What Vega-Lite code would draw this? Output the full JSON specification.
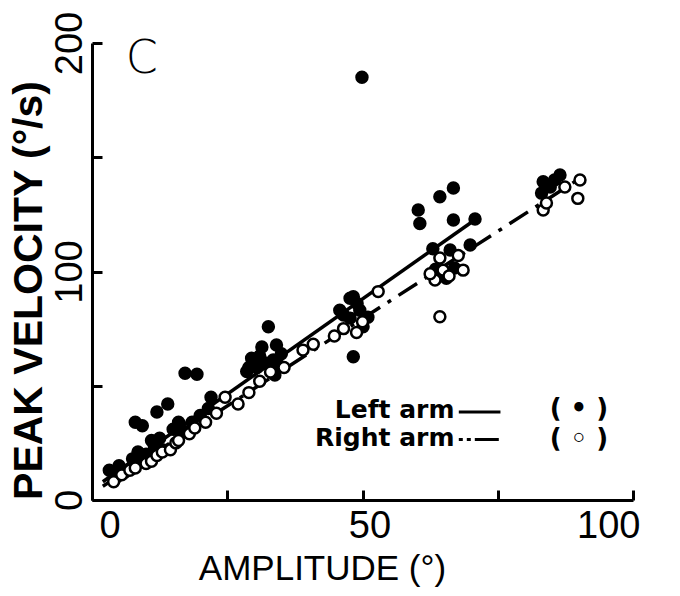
{
  "$schema": "https://vega.github.io/schema/vega-lite/v6.json",
  "autosize": "none",
  "width": 541,
  "height": 457,
  "padding": {"left": 92, "top": 43, "right": 47, "bottom": 96},
  "background": "white",
  "config": {
    "view": {"stroke": null},
    "font": "Liberation Sans",
    "axis": {
      "grid": false,
      "domainColor": "black",
      "domainWidth": 3,
      "tickColor": "black",
      "tickWidth": 3,
      "tickSize": -10,
      "labelColor": "black",
      "labelFont": "Liberation Sans",
      "labelFontSize": 38,
      "titleColor": "black",
      "titleFont": "Liberation Sans",
      "titleFontWeight": "normal"
    }
  },
  "datasets": {
    "pts": [
      {"arm": "Left", "amp": 3.2, "vel": 13},
      {"arm": "Left", "amp": 4.5, "vel": 10},
      {"arm": "Left", "amp": 6, "vel": 12},
      {"arm": "Left", "amp": 5, "vel": 15},
      {"arm": "Left", "amp": 7.5, "vel": 18},
      {"arm": "Left", "amp": 8.5, "vel": 21},
      {"arm": "Left", "amp": 11, "vel": 26},
      {"arm": "Left", "amp": 12.5, "vel": 27},
      {"arm": "Left", "amp": 15, "vel": 31},
      {"arm": "Left", "amp": 16, "vel": 34},
      {"arm": "Left", "amp": 8, "vel": 34},
      {"arm": "Left", "amp": 9.3, "vel": 32.5},
      {"arm": "Left", "amp": 12, "vel": 38.5},
      {"arm": "Left", "amp": 14, "vel": 42},
      {"arm": "Left", "amp": 17.2, "vel": 55.5},
      {"arm": "Left", "amp": 19.4, "vel": 55},
      {"arm": "Left", "amp": 10, "vel": 20},
      {"arm": "Left", "amp": 11.5, "vel": 24},
      {"arm": "Left", "amp": 9.5, "vel": 17},
      {"arm": "Left", "amp": 13, "vel": 22},
      {"arm": "Left", "amp": 17, "vel": 30},
      {"arm": "Left", "amp": 18.5, "vel": 34},
      {"arm": "Left", "amp": 21.5, "vel": 40},
      {"arm": "Left", "amp": 22, "vel": 45},
      {"arm": "Left", "amp": 20, "vel": 37},
      {"arm": "Left", "amp": 31.4, "vel": 67},
      {"arm": "Left", "amp": 32.6, "vel": 75.8},
      {"arm": "Left", "amp": 29.5, "vel": 62},
      {"arm": "Left", "amp": 34.1, "vel": 67.8},
      {"arm": "Left", "amp": 33.5, "vel": 61.3},
      {"arm": "Left", "amp": 28.6, "vel": 56.2},
      {"arm": "Left", "amp": 33.8, "vel": 54.7},
      {"arm": "Left", "amp": 30.5, "vel": 58},
      {"arm": "Left", "amp": 35, "vel": 64},
      {"arm": "Left", "amp": 29, "vel": 58},
      {"arm": "Left", "amp": 31, "vel": 63},
      {"arm": "Left", "amp": 32, "vel": 60},
      {"arm": "Left", "amp": 34.5, "vel": 59},
      {"arm": "Left", "amp": 48.3, "vel": 89},
      {"arm": "Left", "amp": 45.8, "vel": 83},
      {"arm": "Left", "amp": 47.7, "vel": 88.3},
      {"arm": "Left", "amp": 49.5, "vel": 83},
      {"arm": "Left", "amp": 47.7, "vel": 79.6},
      {"arm": "Left", "amp": 50.1, "vel": 75.8},
      {"arm": "Left", "amp": 46.5, "vel": 81},
      {"arm": "Left", "amp": 49, "vel": 86},
      {"arm": "Left", "amp": 51, "vel": 80},
      {"arm": "Left", "amp": 48.3, "vel": 62.7},
      {"arm": "Left", "amp": 66.8, "vel": 136.5},
      {"arm": "Left", "amp": 64.3, "vel": 132.7},
      {"arm": "Left", "amp": 60.3, "vel": 126.9},
      {"arm": "Left", "amp": 60.6, "vel": 121},
      {"arm": "Left", "amp": 66.8, "vel": 122.5},
      {"arm": "Left", "amp": 70.8, "vel": 123},
      {"arm": "Left", "amp": 63, "vel": 110},
      {"arm": "Left", "amp": 66.2, "vel": 109.4},
      {"arm": "Left", "amp": 69.9, "vel": 111.6},
      {"arm": "Left", "amp": 63.5, "vel": 101},
      {"arm": "Left", "amp": 67, "vel": 101.5},
      {"arm": "Left", "amp": 65.5, "vel": 97},
      {"arm": "Left", "amp": 83.4, "vel": 139.3},
      {"arm": "Left", "amp": 86.5, "vel": 142.2},
      {"arm": "Left", "amp": 84.7, "vel": 137},
      {"arm": "Left", "amp": 83.1, "vel": 134.3},
      {"arm": "Left", "amp": 85.5, "vel": 140},
      {"arm": "Left", "amp": 49.9, "vel": 185},
      {"arm": "Right", "amp": 4, "vel": 8},
      {"arm": "Right", "amp": 5.5, "vel": 11},
      {"arm": "Right", "amp": 7, "vel": 13},
      {"arm": "Right", "amp": 8, "vel": 14},
      {"arm": "Right", "amp": 10, "vel": 16},
      {"arm": "Right", "amp": 11, "vel": 17},
      {"arm": "Right", "amp": 12, "vel": 19.5},
      {"arm": "Right", "amp": 13, "vel": 21},
      {"arm": "Right", "amp": 14.5, "vel": 22},
      {"arm": "Right", "amp": 15.5, "vel": 25},
      {"arm": "Right", "amp": 16, "vel": 26},
      {"arm": "Right", "amp": 18, "vel": 29},
      {"arm": "Right", "amp": 19, "vel": 31.5},
      {"arm": "Right", "amp": 21, "vel": 34},
      {"arm": "Right", "amp": 23, "vel": 38},
      {"arm": "Right", "amp": 24.6, "vel": 45},
      {"arm": "Right", "amp": 27, "vel": 42},
      {"arm": "Right", "amp": 29, "vel": 47},
      {"arm": "Right", "amp": 31, "vel": 52},
      {"arm": "Right", "amp": 33, "vel": 56},
      {"arm": "Right", "amp": 35.5, "vel": 58},
      {"arm": "Right", "amp": 39, "vel": 65.6},
      {"arm": "Right", "amp": 40.9, "vel": 68.2},
      {"arm": "Right", "amp": 44.8, "vel": 71.8},
      {"arm": "Right", "amp": 48.9, "vel": 73.3},
      {"arm": "Right", "amp": 46.5, "vel": 75},
      {"arm": "Right", "amp": 50, "vel": 78},
      {"arm": "Right", "amp": 52.9, "vel": 91.2},
      {"arm": "Right", "amp": 64.3, "vel": 105.9},
      {"arm": "Right", "amp": 64.9, "vel": 100.6},
      {"arm": "Right", "amp": 68.6, "vel": 100.6},
      {"arm": "Right", "amp": 63.4, "vel": 96.3},
      {"arm": "Right", "amp": 64.3, "vel": 80.2},
      {"arm": "Right", "amp": 67.7, "vel": 107},
      {"arm": "Right", "amp": 66, "vel": 98},
      {"arm": "Right", "amp": 62.5, "vel": 99},
      {"arm": "Right", "amp": 83.4, "vel": 126.9},
      {"arm": "Right", "amp": 90.2, "vel": 140},
      {"arm": "Right", "amp": 89.8, "vel": 132},
      {"arm": "Right", "amp": 87.4, "vel": 137},
      {"arm": "Right", "amp": 84, "vel": 130}
    ],
    "fits": [
      {"arm": "Left", "amp": 2, "vel": 8},
      {"arm": "Left", "amp": 71, "vel": 123},
      {"arm": "Right", "amp": 2, "vel": 6},
      {"arm": "Right", "amp": 90, "vel": 140.5}
    ],
    "one": [{}]
  },
  "layer": [
    {
      "data": {"name": "fits"},
      "transform": [{"filter": "datum.arm === 'Left'"}],
      "mark": {"type": "line", "color": "black", "strokeWidth": 3.5},
      "encoding": {
        "x": {"field": "amp", "type": "quantitative"},
        "y": {"field": "vel", "type": "quantitative"}
      }
    },
    {
      "data": {"name": "fits"},
      "transform": [{"filter": "datum.arm === 'Right'"}],
      "mark": {"type": "line", "color": "black", "strokeWidth": 3.5, "strokeDash": [22, 9, 4, 9]},
      "encoding": {
        "x": {"field": "amp", "type": "quantitative"},
        "y": {"field": "vel", "type": "quantitative"}
      }
    },
    {
      "data": {"name": "pts"},
      "mark": {"type": "point", "shape": "circle", "size": 120, "strokeWidth": 2.5, "stroke": "black", "opacity": 1},
      "encoding": {
        "x": {
          "field": "amp", "type": "quantitative",
          "scale": {"domain": [0, 100], "nice": false, "zero": false},
          "axis": {
            "values": [0, 25, 50, 75, 100],
            "labelExpr": "datum.value % 50 === 0 ? datum.label : ''",
            "labelPadding": 17,
            "labelOffset": 7,
            "title": "AMPLITUDE (°)",
            "titleFontSize": 35,
            "titleX": 230,
            "titleY": 86,
            "titleBaseline": "bottom"
          }
        },
        "y": {
          "field": "vel", "type": "quantitative",
          "scale": {"domain": [0, 200], "nice": false},
          "axis": {
            "values": [0, 50, 100, 150, 200],
            "labelExpr": "datum.value % 100 === 0 ? datum.label : ''",
            "labelAngle": -90,
            "labelAlign": "center",
            "labelBaseline": "bottom",
            "labelPadding": 13,
            "title": "PEAK VELOCITY (°/s)",
            "titleFontSize": 41,
            "titleFontWeight": "bold",
            "titleAngle": -90,
            "titleX": -42,
            "titleY": 247,
            "titleBaseline": "bottom"
          }
        },
        "fill": {
          "field": "arm", "type": "nominal",
          "scale": {"domain": ["Left", "Right"], "range": ["black", "white"]},
          "legend": null
        }
      }
    },
    {
      "data": {"name": "one"},
      "mark": {"type": "text", "fontSize": 46, "font": "DejaVu Sans", "fontWeight": 300, "color": "black", "align": "center", "baseline": "middle"},
      "encoding": {
        "x": {"datum": 9.2},
        "y": {"datum": 193},
        "text": {"value": "C"}
      }
    },
    {
      "data": {"name": "one"},
      "mark": {"type": "text", "fontSize": 25, "font": "DejaVu Sans", "fontWeight": "bold", "color": "black", "align": "right", "baseline": "middle"},
      "encoding": {
        "x": {"datum": 67},
        "y": {"datum": 39.4},
        "text": {"value": "Left arm"}
      }
    },
    {
      "data": {"name": "one"},
      "mark": {"type": "text", "fontSize": 25, "font": "DejaVu Sans", "fontWeight": "bold", "color": "black", "align": "right", "baseline": "middle"},
      "encoding": {
        "x": {"datum": 67},
        "y": {"datum": 27.1},
        "text": {"value": "Right arm"}
      }
    },
    {
      "data": {"name": "one"},
      "mark": {"type": "rule", "color": "black", "strokeWidth": 3},
      "encoding": {
        "x": {"datum": 67.8},
        "x2": {"datum": 75.5},
        "y": {"datum": 38.5}
      }
    },
    {
      "data": {"name": "one"},
      "mark": {"type": "rule", "color": "black", "strokeWidth": 3, "strokeDash": [4, 4, 4, 4, 20, 0]},
      "encoding": {
        "x": {"datum": 67.8},
        "x2": {"datum": 75.5},
        "y": {"datum": 26.5}
      }
    },
    {
      "data": {"name": "one"},
      "mark": {"type": "text", "fontSize": 26, "font": "DejaVu Sans", "fontWeight": "bold", "color": "black", "align": "center", "baseline": "middle"},
      "encoding": {
        "x": {"datum": 90},
        "y": {"datum": 39.8},
        "text": {"value": "( • )"}
      }
    },
    {
      "data": {"name": "one"},
      "mark": {"type": "text", "fontSize": 26, "font": "DejaVu Sans", "fontWeight": "bold", "color": "black", "align": "center", "baseline": "middle"},
      "encoding": {
        "x": {"datum": 90},
        "y": {"datum": 26.7},
        "text": {"value": "( ◦ )"}
      }
    }
  ]
}
